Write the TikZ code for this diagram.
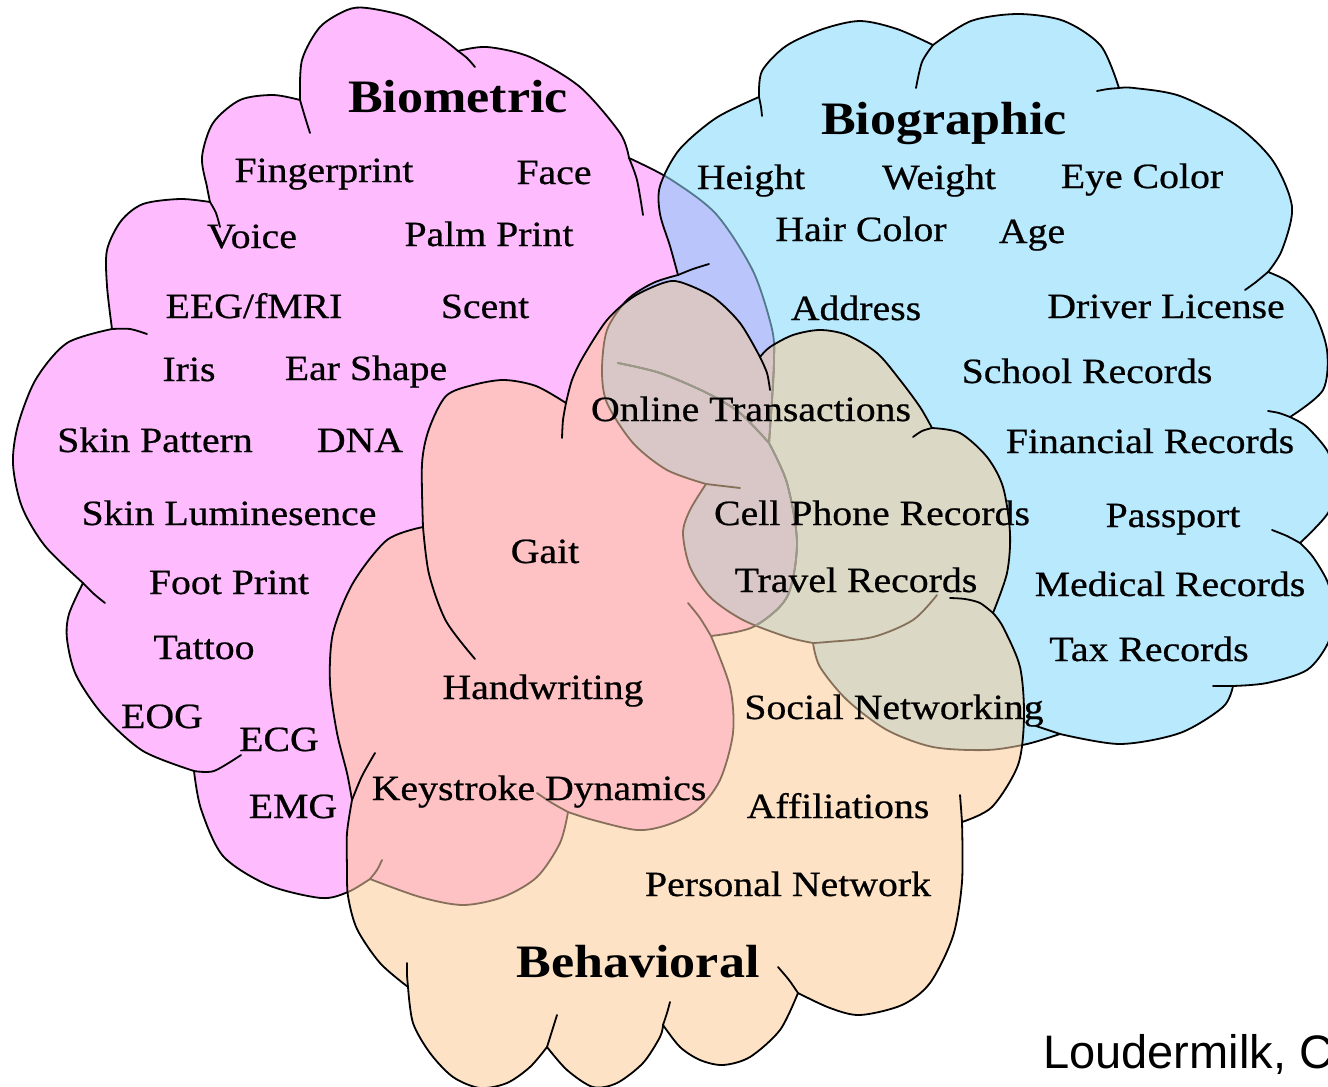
\documentclass[tikz,border=0pt]{standalone}
\usepackage{fontspec}
\setmainfont{Liberation Serif}[FakeStretch=1.12]
\newfontfamily\labfam{Liberation Serif}[FakeStretch=1.12, FakeBold=0.6]
\newfontfamily\srcfam{Liberation Sans}
\definecolor{cPink}{HTML}{FEBBFE}
\definecolor{cBlue}{HTML}{B9E9FD}
\definecolor{cPeach}{HTML}{FDE2C5}
\definecolor{cLav}{HTML}{B9C5FB}
\definecolor{cSalmon}{HTML}{FEC1C4}
\definecolor{cTan}{HTML}{DBD8C5}
\definecolor{cGreyPink}{HTML}{D9C6C6}
\definecolor{cMutedB}{HTML}{527A8C}
\definecolor{cBrown}{HTML}{86705A}
\definecolor{cGreyLine}{HTML}{9A9A8A}
\def\cloudP{plot[smooth] coordinates {(300,100) (302,60) (320,27) (347,10) (367,8) (407,17) (440,37) (458,51)}
 -- plot[smooth] coordinates {(458,51) (487,47) (530,57) (580,87) (620,133) (629,158)}
 -- plot[smooth] coordinates {(629,158) (670,179) (716,214) (753,271) (772,329) (774,360) (772,400) (769,443)}
 -- plot[smooth] coordinates {(769,443) (787,483) (797,543) (787,597) (753,627) (711,636)}
 -- plot[smooth] coordinates {(711,636) (730,687) (733,733) (720,780) (697,810) (667,825) (637,830) (593,820) (568,812)}
 -- plot[smooth] coordinates {(568,812) (560,843) (537,877) (503,897) (463,905) (420,897) (370,879)}
 -- plot[smooth] coordinates {(370,879) (348,892) (321,898) (268,885) (223,856) (201,809) (194,771)}
 -- plot[smooth] coordinates {(194,771) (143,751) (103,715) (76,675) (67,639) (69,614) (83,583)}
 -- plot[smooth] coordinates {(83,583) (45,546) (22,507) (13,464) (18,425) (36,379) (67,343) (112,329)}
 -- plot[smooth] coordinates {(112,329) (107,286) (107,250) (121,221) (143,204) (180,199) (210,202)}
 -- plot[smooth] coordinates {(210,202) (207,187) (202,157) (213,123) (240,100) (273,95) (300,100)} -- cycle}
\def\ticksP{plot[smooth] coordinates {(300,100) (305,117) (310,133)}
 plot[smooth] coordinates {(458,51) (467,58) (475,67)}
 plot[smooth] coordinates {(629,158) (637,180) (643,215)}
 plot[smooth] coordinates {(769,443) (740,413) (707,393) (660,373) (618,363)}
 plot[smooth] coordinates {(711,636) (700,618) (688,603)}
 plot[smooth] coordinates {(568,812) (552,803) (537,793)}
 plot[smooth] coordinates {(370,879) (377,870) (382,860)}
 plot[smooth] coordinates {(194,771) (214,771) (241,755)}
 plot[smooth] coordinates {(83,583) (94,594) (105,603)}
 plot[smooth] coordinates {(112,329) (130,329) (147,334)}
 plot[smooth] coordinates {(210,202) (216,213) (220,227)}}
\def\cloudB{plot[smooth] coordinates {(759,97) (762,71) (786,46) (823,29) (860,21) (897,29) (933,45)}
 -- plot[smooth] coordinates {(933,45) (971,21) (1018,14) (1064,21) (1101,46) (1119,88)}
 -- plot[smooth] coordinates {(1119,88) (1134,88) (1180,96) (1236,125) (1273,161) (1292,207) (1282,250) (1268,272)}
 -- plot[smooth] coordinates {(1268,272) (1290,283) (1313,310) (1327,350) (1323,390) (1290,417)}
 -- plot[smooth] coordinates {(1290,417) (1307,427) (1328,452) (1336,482) (1328,513) (1300,543)}
 -- plot[smooth] coordinates {(1300,543) (1313,557) (1328,583) (1334,613) (1328,643) (1307,670) (1267,683) (1233,686)}
 -- plot[smooth] coordinates {(1233,686) (1223,707) (1180,733) (1120,744) (1060,734)}
 -- plot[smooth] coordinates {(1060,734) (1027,744) (987,750) (933,747) (887,730) (847,700) (820,667) (813,643)}
 -- plot[smooth] coordinates {(813,643) (787,637) (743,620) (710,597) (690,567) (683,533) (690,510) (706,484)}
 -- plot[smooth] coordinates {(706,484) (667,470) (633,443) (607,403) (602,370) (607,330) (627,300) (653,283) (678,275)}
 -- plot[smooth] coordinates {(678,275) (670,246) (660,214) (660,186) (679,150) (716,118) (759,97)} -- cycle}
\def\ticksB{plot[smooth] coordinates {(759,97) (761,107) (762,116)}
 plot[smooth] coordinates {(933,45) (922,62) (916,88)}
 plot[smooth] coordinates {(1119,88) (1108,89) (1097,91)}
 plot[smooth] coordinates {(1268,272) (1256,282) (1245,290)}
 plot[smooth] coordinates {(1290,417) (1279,413) (1268,411)}
 plot[smooth] coordinates {(1300,543) (1287,536) (1272,530)}
 plot[smooth] coordinates {(1233,686) (1223,686) (1213,686)}
 plot[smooth] coordinates {(1060,734) (1048,730) (1036,726)}
 plot[smooth] coordinates {(813,643) (827,642) (873,637) (913,620) (937,595)}
 plot[smooth] coordinates {(706,484) (723,486) (740,488)}
 plot[smooth] coordinates {(678,275) (693,269) (709,264)}}
\def\cloudH{plot[smooth] coordinates {(566,403) (572,380) (583,357) (607,320) (633,297) (663,283) (680,282) (713,297) (740,323) (760,357)}
 -- plot[smooth] coordinates {(760,357) (770,347) (793,335) (820,330) (847,335) (877,353) (900,380) (920,407) (932,428)}
 -- plot[smooth] coordinates {(932,428) (960,433) (987,457) (1003,487) (1010,533) (1007,573) (993,613)}
 -- plot[smooth] coordinates {(993,613) (1003,627) (1020,667) (1024,717) (1018,765) (992,807) (962,822)}
 -- plot[smooth] coordinates {(962,822) (962,882) (953,936) (930,983) (902,1005) (860,1015) (830,1008) (798,993)}
 -- plot[smooth] coordinates {(798,993) (780,1030) (750,1057) (723,1065) (700,1060) (680,1047) (663,1025)}
 -- plot[smooth] coordinates {(663,1025) (660,1037) (643,1063) (617,1083) (593,1087) (567,1070) (547,1047)}
 -- plot[smooth] coordinates {(547,1047) (530,1067) (507,1083) (480,1088) (453,1077) (430,1053) (413,1023) (408,987)}
 -- plot[smooth] coordinates {(408,987) (380,963) (357,929) (348,896) (347,867) (347,833) (352,800)}
 -- plot[smooth] coordinates {(352,800) (347,773) (337,733) (330,683) (333,633) (353,583) (387,540) (423,527)}
 -- plot[smooth] coordinates {(423,527) (422,464) (429,429) (446,396) (473,385) (504,380) (536,386) (566,403)} -- cycle}
\def\ticksH{plot[smooth] coordinates {(566,403) (563,420) (562,438)}
 plot[smooth] coordinates {(760,357) (767,373) (770,390)}
 plot[smooth] coordinates {(932,428) (922,431) (913,437)}
 plot[smooth] coordinates {(993,613) (980,603) (965,599) (950,598)}
 plot[smooth] coordinates {(962,822) (961,808) (960,795)}
 plot[smooth] coordinates {(798,993) (789,980) (778,967)}
 plot[smooth] coordinates {(663,1025) (667,1013) (670,1002)}
 plot[smooth] coordinates {(547,1047) (552,1031) (557,1015)}
 plot[smooth] coordinates {(408,987) (407,975) (407,963)}
 plot[smooth] coordinates {(352,800) (362,776) (375,753)}
 plot[smooth] coordinates {(423,527) (429,574) (446,621) (475,659)}}
\tikzset{
  outl/.style={line width=1.8pt, line join=round, line cap=round},
  lab/.style={font=\labfam\fontsize{35.5}{40}\selectfont, anchor=base, inner sep=0pt},
  ttl/.style={font=\fontsize{46.5}{52}\selectfont\bfseries, anchor=base, inner sep=0pt},
  src/.style={font=\srcfam\fontsize{47}{52}\selectfont, anchor=base west, inner sep=0pt}
}
\begin{document}
\begin{tikzpicture}[x=1pt,y=-1pt]
\useasboundingbox (0,0) rectangle (1328,1087);
\fill[white] (0,0) rectangle (1328,1087);
% Biometric
\fill[cPink] \cloudP;
\draw[outl] \cloudP;
\draw[outl] \ticksP;
% Biographic
\fill[cBlue] \cloudB;
\begin{scope}
  \clip \cloudP;
  \fill[cLav] \cloudB;
\end{scope}
\begin{scope}
  \clip \cloudB;
  \draw[outl,cMutedB] \cloudP;
  \draw[outl,cMutedB] \ticksP;
\end{scope}
\draw[outl] \cloudB;
\draw[outl] \ticksB;
% Behavioral
\fill[cPeach] \cloudH;
\begin{scope}
  \clip \cloudH;
  \fill[cSalmon] \cloudP;
  \fill[cTan] \cloudB;
  \clip \cloudB;
  \fill[cGreyPink] \cloudP;
\end{scope}
\begin{scope}
  \clip \cloudH;
  \draw[outl,cBrown] \cloudP;
  \draw[outl,cBrown] \ticksP;
  \draw[outl,cBrown] \cloudB;
  \draw[outl,cBrown] \ticksB;
  \clip \cloudB;
  \draw[outl,cGreyLine] \cloudP;
  \draw[outl,cGreyLine] \ticksP;
\end{scope}
\draw[outl] \cloudH;
\draw[outl] \ticksH;
% texts
\node[ttl] (tBiometric) at (458,112) {Biometric};
\node[lab] (fingerprint) at (324,182) {Fingerprint};
\node[lab] (face) at (554,184) {Face};
\node[lab] (voice) at (252,248) {Voice};
\node[lab] (palm) at (489,246) {Palm Print};
\node[lab] (eeg) at (254,318) {EEG/fMRI};
\node[lab] (scent) at (485,318) {Scent};
\node[lab] (iris) at (189,381) {Iris};
\node[lab] (ear) at (366,380) {Ear Shape};
\node[lab] (skinp) at (155,452) {Skin Pattern};
\node[lab] (dna) at (360,452) {DNA};
\node[lab] (skinl) at (229,525) {Skin Luminesence};
\node[lab] (foot) at (229,594) {Foot Print};
\node[lab] (tattoo) at (204,659) {Tattoo};
\node[lab] (eog) at (162,728) {EOG};
\node[lab] (ecg) at (279,751) {ECG};
\node[lab] (emg) at (293,818) {EMG};
\node[ttl] (tBiographic) at (944,134) {Biographic};
\node[lab] (height) at (751,189) {Height};
\node[lab] (weight) at (939,189) {Weight};
\node[lab] (eye) at (1142,188) {Eye Color};
\node[lab] (hair) at (861,241) {Hair Color};
\node[lab] (age) at (1032,243) {Age};
\node[lab] (address) at (856,320) {Address};
\node[lab] (driver) at (1166,318) {Driver License};
\node[lab] (school) at (1087,383) {School Records};
\node[lab] (financial) at (1150,453) {Financial Records};
\node[lab] (passport) at (1173,527) {Passport};
\node[lab] (medical) at (1170,596) {Medical Records};
\node[lab] (tax) at (1149,661) {Tax Records};
\node[lab] (online) at (751,421) {Online Transactions};
\node[lab] (cell) at (872,525) {Cell Phone Records};
\node[lab] (travel) at (856,592) {Travel Records};
\node[lab] (gait) at (545,563) {Gait};
\node[lab] (hand) at (543,699) {Handwriting};
\node[lab] (key) at (539,800) {Keystroke Dynamics};
\node[lab] (social) at (894,719) {Social Networking};
\node[lab] (affil) at (838,818) {Affiliations};
\node[lab] (personal) at (788,896) {Personal Network};
\node[ttl] (tBehavioral) at (638,977) {Behavioral};
\node[src] (cite) at (1043,1068) {Loudermilk, C};
\end{tikzpicture}
\end{document}
